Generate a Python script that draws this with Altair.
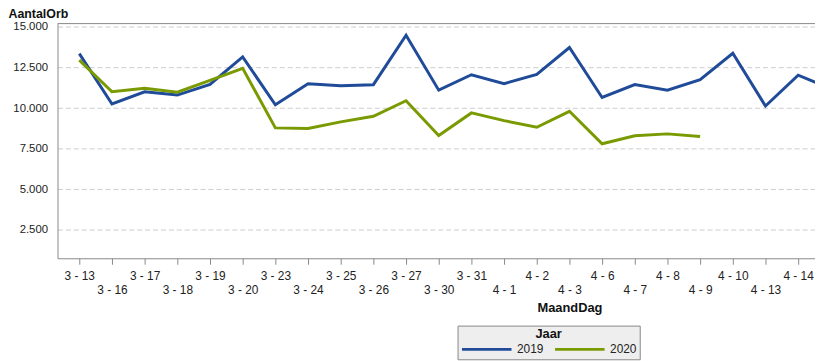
import altair as alt
import pandas as pd

# x categories (month - day); 4 - 15 lies beyond the visible (clipped) right edge
categories = ["3 - 13", "3 - 16", "3 - 17", "3 - 18", "3 - 19", "3 - 20", "3 - 23", "3 - 24",
              "3 - 25", "3 - 26", "3 - 27", "3 - 30", "3 - 31", "4 - 1", "4 - 2", "4 - 3",
              "4 - 6", "4 - 7", "4 - 8", "4 - 9", "4 - 10", "4 - 13", "4 - 14", "4 - 15"]
visible_categories = categories[:-1]
values_2019 = [13350, 10250, 11000, 10800, 11450, 13150, 10200, 11500,
               11380, 11440, 14480, 11100, 12050, 11500, 12075, 13725,
               10650, 11450, 11100, 11750, 13375, 10125, 12025, 11200]
values_2020 = [12950, 11000, 11220, 10975, 11700, 12450, 8780, 8740,
               9150, 9490, 10450, 8310, 9700, 9225, 8820, 9800,
               7800, 8290, 8410, 8250]
years = ["2019", "2020"]
colors = ["#1f4b99", "#7a9a01"]
y_ticks = [2500, 5000, 7500, 10000, 12500, 15000]

rows = []
for c, v in zip(categories, values_2019):
    rows.append({"MaandDag": c, "Jaar": "2019", "AantalOrb": v})
for c, v in zip(categories, values_2020):
    rows.append({"MaandDag": c, "Jaar": "2020", "AantalOrb": v})
df = pd.DataFrame(rows)

second_row = categories[1::2]
second_row_js = "[" + ",".join("'" + s + "'" for s in second_row) + "]"
label_expr = f"indexof({second_row_js}, datum.value) >= 0 ? ['', datum.label] : datum.label"

FONT = "Liberation Sans"
W, H = 765, 237

x_enc = alt.X(
    "MaandDag:N",
    sort=categories,
    scale=alt.Scale(type="point", domain=categories, range=[0, 803], padding=0.667),
    axis=alt.Axis(
        title="MaandDag", values=visible_categories,
        labelAngle=0, labelExpr=label_expr, labelLineHeight=15,
        labelFontSize=12, labelFont=FONT, labelColor="#222222", labelPadding=6,
        labelOverlap=False, ticks=True, tickSize=6, tickColor="#888888",
        domainColor="#888888", grid=False,
        titleFont=FONT, titleFontSize=13, titleFontWeight="bold", titleColor="#111111",
        titleX=517, titleY=54, titleBaseline="alphabetic", titleAlign="center",
    ),
)
y_enc = alt.Y(
    "AantalOrb:Q",
    scale=alt.Scale(domain=[750, 15200], nice=False, zero=False),
    axis=alt.Axis(
        title="AantalOrb", values=y_ticks,
        labelExpr="replace(format(datum.value, ',.0f'), ',', '.')",
        labelFontSize=11.5, labelFont=FONT, labelColor="#222222", labelPadding=10,
        ticks=False, domainColor="#888888",
        grid=True, gridColor="#cccccc", gridDash=[5, 3], gridWidth=1,
        titleFont=FONT, titleFontSize=12.5, titleFontWeight="bold", titleColor="#111111",
        titleAngle=0, titleX=-50, titleY=-5.8, titleAlign="left", titleBaseline="alphabetic",
    ),
)
color_enc = alt.Color(
    "Jaar:N",
    scale=alt.Scale(domain=years, range=colors),
    legend=alt.Legend(
        title="Jaar", orient="none", legendX=404, legendY=305, direction="horizontal",
        titleFont=FONT, titleFontSize=13, titleFontWeight="bold", titleColor="#111111",
        titleAnchor="middle", titlePadding=1,
        labelFont=FONT, labelFontSize=12, labelColor="#222222", labelOffset=4,
        labelBaseline="middle",
        symbolType="stroke", symbolSize=2500, symbolStrokeWidth=3, columnPadding=10,
        clipHeight=14, padding=3, fillColor="#eeeeee", strokeColor="#888888",
    ),
)

lines = alt.Chart(df).mark_line(strokeWidth=3, clip=True).encode(
    x=x_enc, y=y_enc, color=color_enc, detail="Jaar:N"
)

top_border = alt.Chart(pd.DataFrame({"k": [0]})).mark_rule(color="#888888", strokeWidth=1).encode(
    x=alt.value(0), x2=alt.value(W), y=alt.value(0)
)

chart = alt.layer(lines, top_border).properties(
    width=W, height=H,
    autosize=alt.AutoSizeParams(type="none"),
    padding={"left": 50, "top": 14, "right": 0, "bottom": 104},
).configure_view(stroke=None)

chart.save("out.html", embed_options={"renderer": "svg", "actions": False})
